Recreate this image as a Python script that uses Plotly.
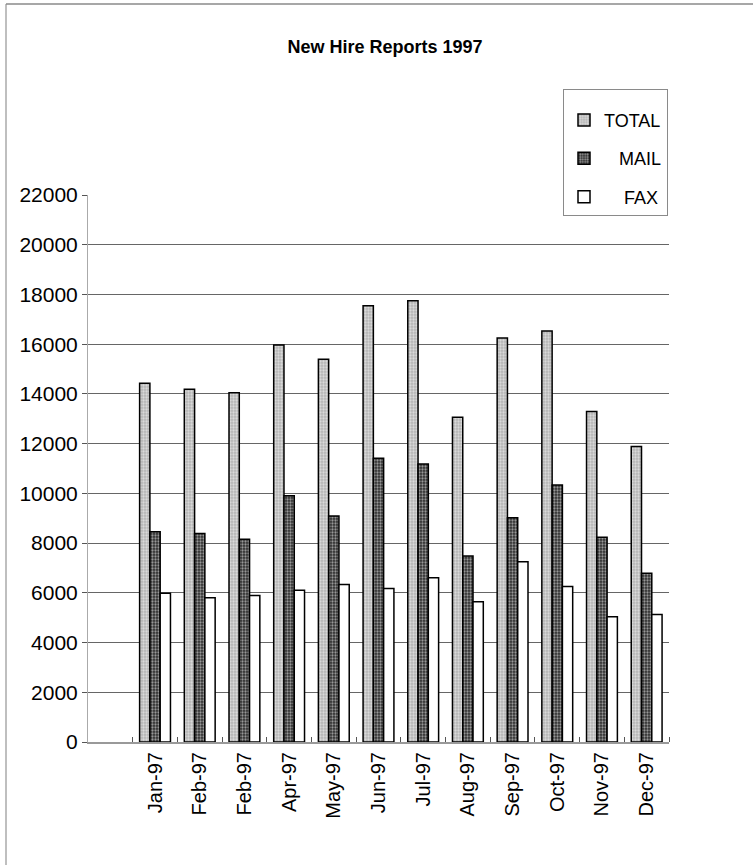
import plotly.graph_objects as go

# Monthly new-hire report counts, 1997
months = ["Jan-97", "Feb-97", "Feb-97", "Apr-97", "May-97", "Jun-97",
          "Jul-97", "Aug-97", "Sep-97", "Oct-97", "Nov-97", "Dec-97"]
total = [14430, 14190, 14050, 15970, 15390, 17550,
         17750, 13060, 16250, 16530, 13290, 11880]
mail = [8460, 8390, 8150, 9900, 9090, 11410,
        11180, 7480, 9020, 10340, 8230, 6790]
fax = [5980, 5800, 5890, 6100, 6330, 6170,
       6610, 5640, 7250, 6250, 5040, 5130]
y_ticks = list(range(0, 22001, 2000))

xpos = list(range(len(months)))

FONT = "Liberation Sans, Arial, sans-serif"

fig = go.Figure()
series = [
    ("TOTAL", total, dict(shape=".", bgcolor="#b4b4b4", fgcolor="#ffffff", size=3, solidity=0.45)),
    ("\u00a0\u00a0\u00a0MAIL", mail, dict(shape=".", bgcolor="#2e2e2e", fgcolor="#ffffff", size=3, solidity=0.45)),
    ("\u00a0\u00a0\u00a0\u00a0FAX", fax, None),
]
for i, (name, vals, pat) in enumerate(series):
    marker = dict(color="white", line=dict(color="black", width=1.5))
    if pat:
        marker["pattern"] = pat
    fig.add_trace(go.Bar(x=xpos, y=vals, name=name, marker=marker,
                         legendgroup=f"g{i}"))

fig.update_layout(
    width=753, height=865,
    margin=dict(l=88, r=84, t=195, b=123),
    paper_bgcolor="white", plot_bgcolor="white",
    barmode="group", bargap=0.31, bargroupgap=0,
    showlegend=True,
    title=dict(text="New Hire Reports 1997", xref="container", yref="container",
               x=385 / 753, y=1 - 47 / 865, xanchor="center", yanchor="middle",
               font=dict(family=FONT, size=18, color="black", weight="bold")),
    legend=dict(x=(563 - 88) / 581, y=(742 - 89) / 547, xanchor="left", yanchor="top",
                bordercolor="#8a8a8a", borderwidth=1, bgcolor="white",
                font=dict(family=FONT, size=18, color="black"),
                title=dict(text=" ", font=dict(size=9)),
                tracegroupgap=12, traceorder="grouped"),
    xaxis=dict(range=[-1.5, 11.5], tickmode="array", tickvals=xpos,
               ticktext=months, tickangle=-90, ticks="", showgrid=False,
               zeroline=False, showline=True, linecolor="#999999", linewidth=2,
               automargin=False,
               tickfont=dict(family=FONT, size=20, color="black"),
               minor=dict(tickmode="array",
                          tickvals=[p - 0.5 for p in xpos] + [xpos[-1] + 0.5],
                          ticks="inside", ticklen=5, tickcolor="#555555",
                          tickwidth=1, showgrid=False)),
    yaxis=dict(range=[0, 22000], tickmode="array", tickvals=y_ticks,
               ticktext=[str(v) for v in y_ticks], ticks="outside", ticklen=5,
               tickcolor="#555555", showgrid=False, zeroline=False,
               showline=True, linecolor="#aaaaaa", linewidth=1,
               automargin=False,
               tickfont=dict(family=FONT, size=21, color="black"),
               minor=dict(tickmode="array", tickvals=y_ticks[1:-1],
                          showgrid=True, gridcolor="#666666", gridwidth=1,
                          ticks="")),
)

# Outer chart frame (left and top edges)
fig.add_shape(type="line", xref="paper", yref="paper",
              x0=(6 - 88) / 581, x1=(6 - 88) / 581,
              y0=(742 - 4) / 547, y1=(742 - 870) / 547,
              line=dict(color="#aaaaaa", width=1.5))
fig.add_shape(type="line", xref="paper", yref="paper",
              x0=(6 - 88) / 581, x1=(760 - 88) / 581,
              y0=(742 - 4) / 547, y1=(742 - 4) / 547,
              line=dict(color="#8a8a8a", width=1.5))

fig.write_html("out.html")
